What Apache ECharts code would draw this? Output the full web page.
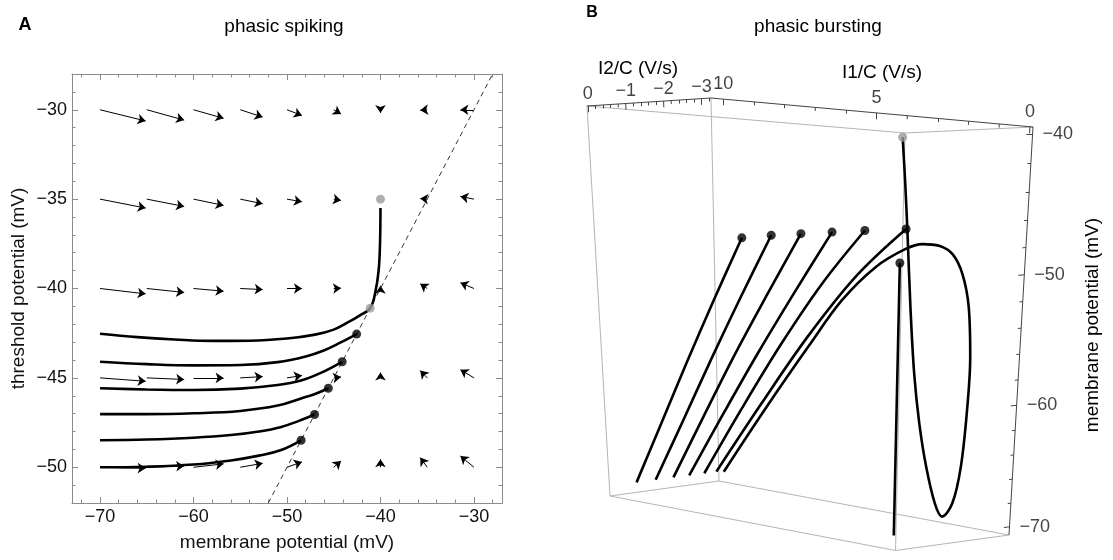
<!DOCTYPE html>
<html><head><meta charset="utf-8">
<script src="https://cdn.jsdelivr.net/npm/echarts@6/dist/echarts.min.js"></script>
<style>html,body{margin:0;padding:0;background:#fff}#c{width:1113px;height:560px}</style>
</head><body><div id="c"></div>
<script>
// ================= Panel A data (membrane potential V, threshold potential theta) =================
const aXMajor = [-70,-60,-50,-40,-30];
const aXMinor = [-72,-68,-66,-64,-62,-58,-56,-54,-52,-48,-46,-44,-42,-38,-36,-34,-32,-28];
const aYMajor = [-50,-45,-40,-35,-30];
const aYMinor = [-51,-49,-48,-47,-46,-44,-43,-42,-41,-39,-38,-37,-36,-34,-33,-32,-31,-29];
// vector field arrows: [V, theta, dV, dTheta]
const fieldRowM30 = [[-70,-30,4.88,-0.63],[-65,-30,4.0,-0.58],[-60,-30,3.22,-0.48],[-55,-30,2.4,-0.41],[-50,-30,1.6,-0.32],[-45,-30,0.78,-0.24],[-40,-30,0,-0.18],[-35,-30,-0.75,-0.03],[-30,-30,-1.45,0]];
const fieldRowM35 = [[-70,-35,4.88,-0.5],[-65,-35,4.0,-0.41],[-60,-35,3.22,-0.35],[-55,-35,2.4,-0.26],[-50,-35,1.6,-0.15],[-45,-35,0.78,-0.07],[-35,-35,-0.75,0.03],[-30,-35,-1.45,0.15]];
const fieldRowM40 = [[-70,-40,4.88,-0.3],[-65,-40,4.0,-0.22],[-60,-40,3.22,-0.15],[-55,-40,2.4,-0.06],[-50,-40,1.6,0],[-45,-40,0.78,0.02],[-40,-40,0,0.15],[-35,-40,-0.75,0.26],[-30,-40,-1.45,0.32]];
const fieldRowM45 = [[-70,-45,4.88,-0.19],[-65,-45,4.0,-0.09],[-60,-45,3.22,0],[-55,-45,2.4,0.07],[-50,-45,1.6,0.13],[-45,-45,0.78,0.05],[-40,-45,0,0.3],[-35,-45,-0.75,0.41],[-30,-45,-1.45,0.46]];
const fieldRowM50 = [[-70,-50,4.88,-0.06],[-65,-50,4.0,0.07],[-60,-50,3.22,0.19],[-55,-50,2.4,0.22],[-50,-50,1.6,0.3],[-45,-50,0.78,0.35],[-40,-50,0,0.45],[-35,-50,-0.75,0.54],[-30,-50,-1.45,0.63]];
const trajA1 = [[-70,-42.53],[-66,-42.72],[-62,-42.85],[-58,-42.93],[-54,-42.92],[-50,-42.8],[-47,-42.58],[-45,-42.3],[-43.5,-41.9],[-42.2,-41.5],[-41.1,-41.1],[-40.55,-40.2],[-40.2,-39],[-40.05,-37.5],[-40,-35.5]];
const trajA2 = [[-70,-44.1],[-65,-44.23],[-60,-44.3],[-55,-44.28],[-51,-44.12],[-48,-43.8],[-46,-43.45],[-44.3,-43.03],[-42.55,-42.55]];
const trajA3 = [[-70,-45.58],[-65,-45.65],[-60,-45.68],[-55,-45.6],[-51,-45.4],[-48.5,-45.15],[-46.5,-44.75],[-44.1,-44.1]];
const trajA4 = [[-70,-47.03],[-65,-47.03],[-60,-46.98],[-55,-46.85],[-51,-46.55],[-48.5,-46.15],[-47,-45.9],[-45.58,-45.58]];
const trajA5 = [[-70,-48.49],[-65,-48.45],[-60,-48.35],[-56,-48.2],[-53,-48.0],[-50.7,-47.76],[-48.8,-47.42],[-47.05,-47.05]];
const trajA6 = [[-70,-50],[-65,-49.97],[-60,-49.85],[-56,-49.62],[-53,-49.35],[-50.7,-49.05],[-48.49,-48.49]];
const spikeDotsA = [[-42.55,-42.55],[-44.1,-44.1],[-45.58,-45.58],[-47.05,-47.05],[-48.49,-48.49]];
const grayDotsA = [[-40,-35],[-41.1,-41.1]];
const thresholdLineA = [[-52,-52],[-28,-28]];

// ================= Panel B data: [I1/C, I2/C, V] =================
const bI2Major = [0,-1,-2,-3];
const bI2Minor = [-0.2,-0.4,-0.6,-0.8,-1.2,-1.4,-1.6,-1.8,-2.2,-2.4,-2.6,-2.8,-3.2];
const bI1Major = [10,5,0];
const bI1Minor = [9,8,7,6,4,3,2,1];
const bVMajor = [-40,-50,-60,-70];
const bVMinor = [-42,-44,-46,-48,-52,-54,-56,-58,-62,-64,-66,-68];
const trajB0 = [[0,0,-69.5],[0,0,-48.5]];
const trajB1 = [[10,-0.47,-69.5],[9.0,-0.47,-63.97],[7.99,-0.47,-58.44],[6.99,-0.47,-53.24],[5.98,-0.47,-48.24]];
const trajB2 = [[10,-1.04,-69.5],[8.93,-1.04,-63.94],[7.85,-1.04,-58.37],[6.78,-1.04,-53.13],[5.70,-1.04,-48.10]];
const trajB3 = [[10,-1.57,-69.5],[8.84,-1.57,-63.70],[7.68,-1.57,-58.11],[6.52,-1.57,-52.95],[5.36,-1.57,-48.01]];
const trajB4 = [[10,-2.04,-69.5],[8.73,-2.04,-63.66],[7.45,-2.04,-58.04],[6.18,-2.04,-52.85],[4.90,-2.04,-47.88]];
const trajB5 = [[10,-2.49,-69.5],[8.59,-2.49,-63.18],[7.18,-2.49,-57.30],[5.77,-2.49,-52.08],[4.36,-2.49,-47.72]];
const trajB6 = [[10,-2.85,-69.5],[8.36,-2.85,-62.89],[6.72,-2.85,-56.71],[5.07,-2.85,-51.42],[3.43,-2.85,-47.45]];
const trajB7 = [[10,-3.07,-69.6],[8.45,-3.07,-63.3],[6.95,-3.07,-57.6],[5.83,-3.07,-53.61],[4.70,-3.07,-50.70],[3.70,-3.07,-49.05],
  [2.6,-2.64,-48.31],[1.6,-2.29,-48.11],[1.0,-2.18,-48.54],[0.5,-2.07,-49.85],[0.2,-2.04,-52.23],[0.05,-2.02,-55.94],[0,-1.96,-59.77],
  [0,-1.85,-64.53],[0,-1.65,-67.45],[0,-1.37,-68.45],[0,-1.15,-67.27],[0,-0.87,-64.19],[0,-0.64,-60.67],[0,-0.46,-56.76],
  [0,-0.31,-51.74],[0,-0.19,-46.68],[0,-0.10,-43.16],[0,0,-39.8]];
const spikeDotsB = [[0,0,-48.5],[5.98,-0.47,-48.24],[5.70,-1.04,-48.10],[5.36,-1.57,-48.01],[4.90,-2.04,-47.88],[4.36,-2.49,-47.72],[3.43,-2.85,-47.45]];
const grayDotB = [[0,0,-39.8]];

// ================= layout / projection constants for panel B =================
const boxTop = {A:[587,106], B:[711,98], C:[1033,127], D:[905,133]};
const boxBot = {A:[610,496], B:[719,481], C:[1009,535], D:[895.5,550.5]};
const depthRatio = 1.12;
const I1Range = [10.4, -0.1];   // A/B side, C/D side
const I2Range = [0.02, -3.25];  // A/D side, B/C side
const VRange = [-39.5, -70.7];  // top, bottom
function project(p){
  const u=(I1Range[0]-p[0])/(I1Range[0]-I1Range[1]);
  const s=(I2Range[0]-p[1])/(I2Range[0]-I2Range[1]);
  const w=(VRange[0]-p[2])/(VRange[0]-VRange[1]);
  const bil=f=>[0,1].map(k=>f.A[k]*(1-u)*(1-s)+f.B[k]*(1-u)*s+f.C[k]*u*s+f.D[k]*u*(1-s));
  const t=bil(boxTop), b=bil(boxBot);
  const a=1-w, c=w*depthRatio;
  return [(a*t[0]+c*b[0])/(a+c),(a*t[1]+c*b[1])/(a+c)];
}

const F = "'Liberation Sans', Arial, Helvetica, sans-serif";
const frameColor = '#8a8a8a';
const txt = '#111';
const fmt = v => v<0 ? '\u2212'+Math.abs(v) : String(v);

function axisPair(pos, min, max, major, minor, withLabel, extra){
  const base = {gridIndex:0, type:'value', min, max, position:pos, splitLine:{show:false}};
  const a1 = Object.assign({}, base, {
    axisLine:{show:true, onZero:false, lineStyle:{color:frameColor,width:1}},
    axisTick:{show:true, inside:true, length:6, customValues:major, lineStyle:{color:frameColor,width:1}},
    axisLabel:{show:withLabel, customValues:major, formatter:fmt, fontSize:18, color:txt, fontFamily:F, margin:5}
  }, extra||{});
  const a2 = Object.assign({}, base, {
    axisLine:{show:false, onZero:false},
    axisTick:{show:true, inside:true, length:3.5, customValues:minor, lineStyle:{color:frameColor,width:1}},
    axisLabel:{show:false}
  });
  return [a1,a2];
}

const xAxes = [
  ...axisPair('bottom',-73,-27,aXMajor,aXMinor,true,{name:'membrane potential (mV)',nameLocation:'middle',nameGap:30,nameTextStyle:{fontSize:19,color:txt,fontFamily:F}}),
  ...axisPair('top',-73,-27,aXMajor,aXMinor,false),
  {gridIndex:1, type:'value', min:0, max:1113, show:false}
];
const yAxes = [
  ...axisPair('left',-52,-28,aYMajor,aYMinor,true,{name:'threshold potential (mV)',nameLocation:'middle',nameGap:44,nameRotate:90,nameTextStyle:{fontSize:19,color:txt,fontFamily:F}}),
  ...axisPair('right',-52,-28,aYMajor,aYMinor,false),
  {gridIndex:1, type:'value', min:0, max:560, inverse:true, show:false}
];

const series = [];
// ---- Panel A ----
const allArrows = [].concat(fieldRowM30, fieldRowM35, fieldRowM40, fieldRowM45, fieldRowM50);
series.push({type:'lines', coordinateSystem:'cartesian2d', xAxisIndex:0, yAxisIndex:0, silent:true, z:2,
  symbol:['none','arrow'], symbolSize:8,
  lineStyle:{color:'#000', width:1, opacity:1}, itemStyle:{color:'#000'},
  data: allArrows.map(a=>({coords:[[a[0],a[1]],[a[0]+a[2],a[1]+a[3]]]}))});
series.push({type:'line', xAxisIndex:0, yAxisIndex:0, data:thresholdLineA, showSymbol:false, symbol:'none', silent:true, z:3,
  lineStyle:{color:'#333', width:1, type:[5,4]}});
[trajA1,trajA2,trajA3,trajA4,trajA5,trajA6].forEach(t=>{
  series.push({type:'line', xAxisIndex:0, yAxisIndex:0, data:t, smooth:0.4, showSymbol:false, symbol:'none', silent:true, z:4,
    lineStyle:{color:'#000', width:2.6}});
});
series.push({type:'scatter', xAxisIndex:0, yAxisIndex:0, data:spikeDotsA, symbolSize:9, itemStyle:{color:'#000'}, silent:true, z:6});
series.push({type:'scatter', xAxisIndex:0, yAxisIndex:0, data:grayDotsA, symbolSize:9, itemStyle:{color:'#9a9a9a'}, silent:true, z:6});

// ---- Panel B ----
const I1a=I1Range[0], I1b=I1Range[1], I2a=I2Range[0], I2b=I2Range[1], Vt=VRange[0], Vb=VRange[1];
const corners = {
  A:[I1a,I2a,Vt], B:[I1a,I2b,Vt], C:[I1b,I2b,Vt], D:[I1b,I2a,Vt],
  A2:[I1a,I2a,Vb], B2:[I1a,I2b,Vb], C2:[I1b,I2b,Vb], D2:[I1b,I2a,Vb]
};
const lightEdges = [['C','D'],['D','A'],['A','A2'],['B','B2'],['D','D2'],['A2','B2'],['B2','C2'],['C2','D2'],['D2','A2']];
const darkEdges = [['A','B'],['B','C'],['C','C2']];
const seg = (p,q)=>({coords:[project(p),project(q)]});
series.push({type:'lines', coordinateSystem:'cartesian2d', xAxisIndex:4, yAxisIndex:4, silent:true, z:1,
  lineStyle:{color:'#b5b5b5', width:1, opacity:1}, data: lightEdges.map(e=>seg(corners[e[0]],corners[e[1]]))});
const tickSegs = [];
bI2Major.forEach(t=>tickSegs.push(seg([I1a,t,Vt],[I1a,t,Vt-0.45])));
bI2Minor.forEach(t=>tickSegs.push(seg([I1a,t,Vt],[I1a,t,Vt-0.25])));
bI1Major.forEach(t=>tickSegs.push(seg([t,I2b,Vt],[t,I2b,Vt-0.45])));
bI1Minor.forEach(t=>tickSegs.push(seg([t,I2b,Vt],[t,I2b,Vt-0.25])));
bVMajor.forEach(t=>tickSegs.push(seg([I1b,I2b,t],[I1b,I2b+0.16,t])));
bVMinor.forEach(t=>tickSegs.push(seg([I1b,I2b,t],[I1b,I2b+0.09,t])));
series.push({type:'lines', coordinateSystem:'cartesian2d', xAxisIndex:4, yAxisIndex:4, silent:true, z:2,
  lineStyle:{color:'#444', width:1, opacity:1}, data: darkEdges.map(e=>seg(corners[e[0]],corners[e[1]])).concat(tickSegs)});
// tick labels
const lab = (p,name,pos,off)=>({value:project(p), name, label:{position:pos, offset:off||[0,0]}});
const bLabels = [].concat(
  bI2Major.map(t=>lab([I1a,t,Vt],fmt(t),'inside',[0,-12])),
  bI1Major.map(t=>lab([t,I2b,Vt],fmt(t),'inside',[0,-15])),
  bVMajor.map(t=>lab([I1b,I2b,t],fmt(t),'right',[4,0]))
);
series.push({type:'scatter', xAxisIndex:4, yAxisIndex:4, silent:true, symbolSize:0, z:5, data:bLabels,
  label:{show:true, formatter:p=>p.name, fontSize:18, color:txt, fontFamily:F, distance:6}});
[trajB0,trajB1,trajB2,trajB3,trajB4,trajB5,trajB6,trajB7].forEach(t=>{
  series.push({type:'line', xAxisIndex:4, yAxisIndex:4, data:t.map(project), smooth:0.35, showSymbol:false, symbol:'none', silent:true, z:4,
    lineStyle:{color:'#000', width:2.6}});
});
series.push({type:'scatter', xAxisIndex:4, yAxisIndex:4, data:spikeDotsB.map(project), symbolSize:9, itemStyle:{color:'#000'}, silent:true, z:6});
series.push({type:'scatter', xAxisIndex:4, yAxisIndex:4, data:grayDotB.map(project), symbolSize:9, itemStyle:{color:'#9a9a9a'}, silent:true, z:6});

const T = (x,y,text,size,bold,rot)=>({type:'text', x, y, rotation:rot||0, silent:true,
  style:{text, font:(bold?'bold ':'')+size+'px '+F, fill:'#000', align:'center', verticalAlign:'middle'}});

const chart = echarts.init(document.getElementById('c'), null, {renderer:'canvas'});
chart.setOption({
  animation:false,
  backgroundColor:'#fff',
  grid:[
    {left:72, top:74, width:430, height:429, outerBoundsMode:'none', containLabel:false},
    {left:0, top:0, width:1113, height:560, outerBoundsMode:'none', containLabel:false}
  ],
  xAxis:xAxes, yAxis:yAxes, series,
  graphic:[
    T(25,25,'A',18,true), T(284,27,'phasic spiking',19),
    T(592,13,'B',16,true), T(818,27,'phasic bursting',19),
    T(638,69,'I2/C (V/s)',19), T(882,73,'I1/C (V/s)',19),
    T(1093,325,'membrane potential (mV)',19,false,Math.PI/2)
  ]
});
</script></body></html>
